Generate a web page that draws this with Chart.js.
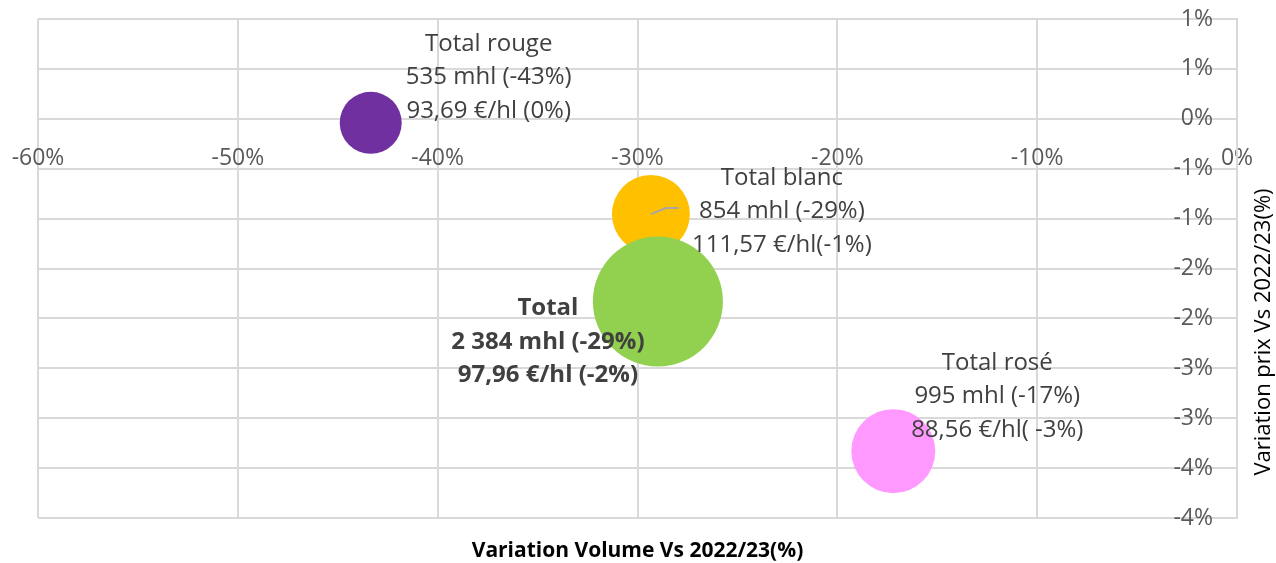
<!DOCTYPE html>
<html>
<head>
<meta charset="utf-8">
<script src="https://cdn.jsdelivr.net/npm/chart.js@4"></script>
<style>
    html, body { margin: 0; padding: 0; background: #fff; }
    #wrap { width: 1276px; height: 563px; }
</style>
</head>
<body>
<div id="wrap"><canvas id="chart" width="1276" height="563"></canvas></div>
<script>
// Data
const seriesNames = ['Total rouge', 'Total blanc', 'Total', 'Total rosé'];
const volumeVar = [-43.35, -29.33, -28.98, -17.2];   // % volume vs 2022/23
const priceVar = [-0.04, -0.955, -1.83, -3.33];      // % price vs 2022/23
const bubbleSize = [31, 39, 65, 42];
const volumeText = ['535 mhl (-43%)', '854 mhl (-29%)', '2 384 mhl (-29%)', '995 mhl (-17%)'];
const priceText = ['93,69 €/hl (0%)', '111,57 €/hl(-1%)', '97,96 €/hl (-2%)', '88,56 €/hl( -3%)'];
const xMin = -60, xMax = 0, xStep = 10;
const yMin = -4, yMax = 1, yStep = 0.5;
const xTitle = 'Variation Volume Vs 2022/23(%)';
const yTitle = 'Variation prix Vs 2022/23(%)';

// Styles
const colors = ['#7030a0', '#ffc000', '#92d050', '#ff99ff'];
const labelOffsets = [[118, -79], [131, -36], [-110, 7], [104, -88]];
const labelBold = [false, false, true, false];
const FONT = '"Open Sans", "DejaVu Sans", sans-serif';

const points = volumeVar.map((v, i) => ({ x: v, y: priceVar[i], r: bubbleSize[i] }));

function roundPct(v) {
    const r = Math.sign(v) * Math.round(Math.abs(v));
    return (r === 0 ? 0 : r) + '%';
}

// keep the axes from eating room: the chart area is set by layout padding
function noRoom(s) {
    s.paddingLeft = 0; s.paddingRight = 0; s.paddingTop = 0; s.paddingBottom = 0;
    if (s.isHorizontal()) s.height = 0; else s.width = 0;
}

const labelPlugin = {
    id: 'bubbleLabels',
    afterDatasetsDraw(chart) {
        const ctx = chart.ctx;
        const meta = chart.getDatasetMeta(0);
        ctx.save();

        // small leader line on the white bubble
        const b = meta.data[1];
        ctx.strokeStyle = '#a6a6a6';
        ctx.lineWidth = 2;
        ctx.beginPath();
        ctx.moveTo(b.x, b.y);
        ctx.lineTo(b.x + 15, b.y - 6);
        ctx.lineTo(b.x + 28, b.y - 6);
        ctx.stroke();

        ctx.textAlign = 'center';
        ctx.textBaseline = 'middle';
        meta.data.forEach((pt, i) => {
            const lines = [seriesNames[i], volumeText[i], priceText[i]];
            ctx.fillStyle = '#404040';
            ctx.font = (labelBold[i] ? 'bold ' : '') + '24px ' + FONT;
            lines.forEach((t, k) => {
                ctx.fillText(t, pt.x + labelOffsets[i][0], pt.y + labelOffsets[i][1] + k * 33.5);
            });
        });
        ctx.restore();
    },
    afterDraw(chart) {
        const ctx = chart.ctx;
        const area = chart.chartArea;
        ctx.save();
        ctx.fillStyle = '#000';
        ctx.textAlign = 'center';
        ctx.textBaseline = 'middle';
        ctx.font = 'bold 21px ' + FONT;
        ctx.fillText(xTitle, (area.left + area.right) / 2, 551);

        ctx.font = '22px ' + FONT;
        ctx.translate(1264, 332);
        ctx.rotate(-Math.PI / 2);
        ctx.fillText(yTitle, 0, 0);
        ctx.restore();
    }
};

new Chart(document.getElementById('chart'), {
    type: 'bubble',
    data: {
        datasets: [{
            data: points,
            backgroundColor: colors,
            borderWidth: 0,
            hoverBorderWidth: 0,
            clip: false
        }]
    },
    options: {
        responsive: false,
        animation: false,
        layout: { autoPadding: false, padding: { left: 38, top: 19, right: 39, bottom: 45 } },
        plugins: {
            legend: { display: false },
            tooltip: { enabled: false }
        },
        scales: {
            x: {
                type: 'linear',
                min: xMin,
                max: xMax,
                position: { y: 0 },
                grid: { color: '#d9d9d9', lineWidth: 2, drawTicks: false },
                border: { display: false },
                afterFit: noRoom,
                ticks: {
                    stepSize: xStep,
                    padding: 26,
                    color: '#595959',
                    font: { family: FONT, size: 23 },
                    maxRotation: 0,
                    callback: v => v + '%'
                }
            },
            y: {
                type: 'linear',
                min: yMin,
                max: yMax,
                position: 'right',
                grid: { color: '#d9d9d9', lineWidth: 2, drawTicks: false },
                border: { display: true, color: '#d9d9d9', width: 2 },
                afterFit: noRoom,
                ticks: {
                    stepSize: yStep,
                    mirror: true,
                    padding: -24,
                    color: '#595959',
                    font: { family: FONT, size: 23 },
                    callback: v => roundPct(v)
                }
            }
        }
    },
    plugins: [labelPlugin]
});
</script>
</body>
</html>
